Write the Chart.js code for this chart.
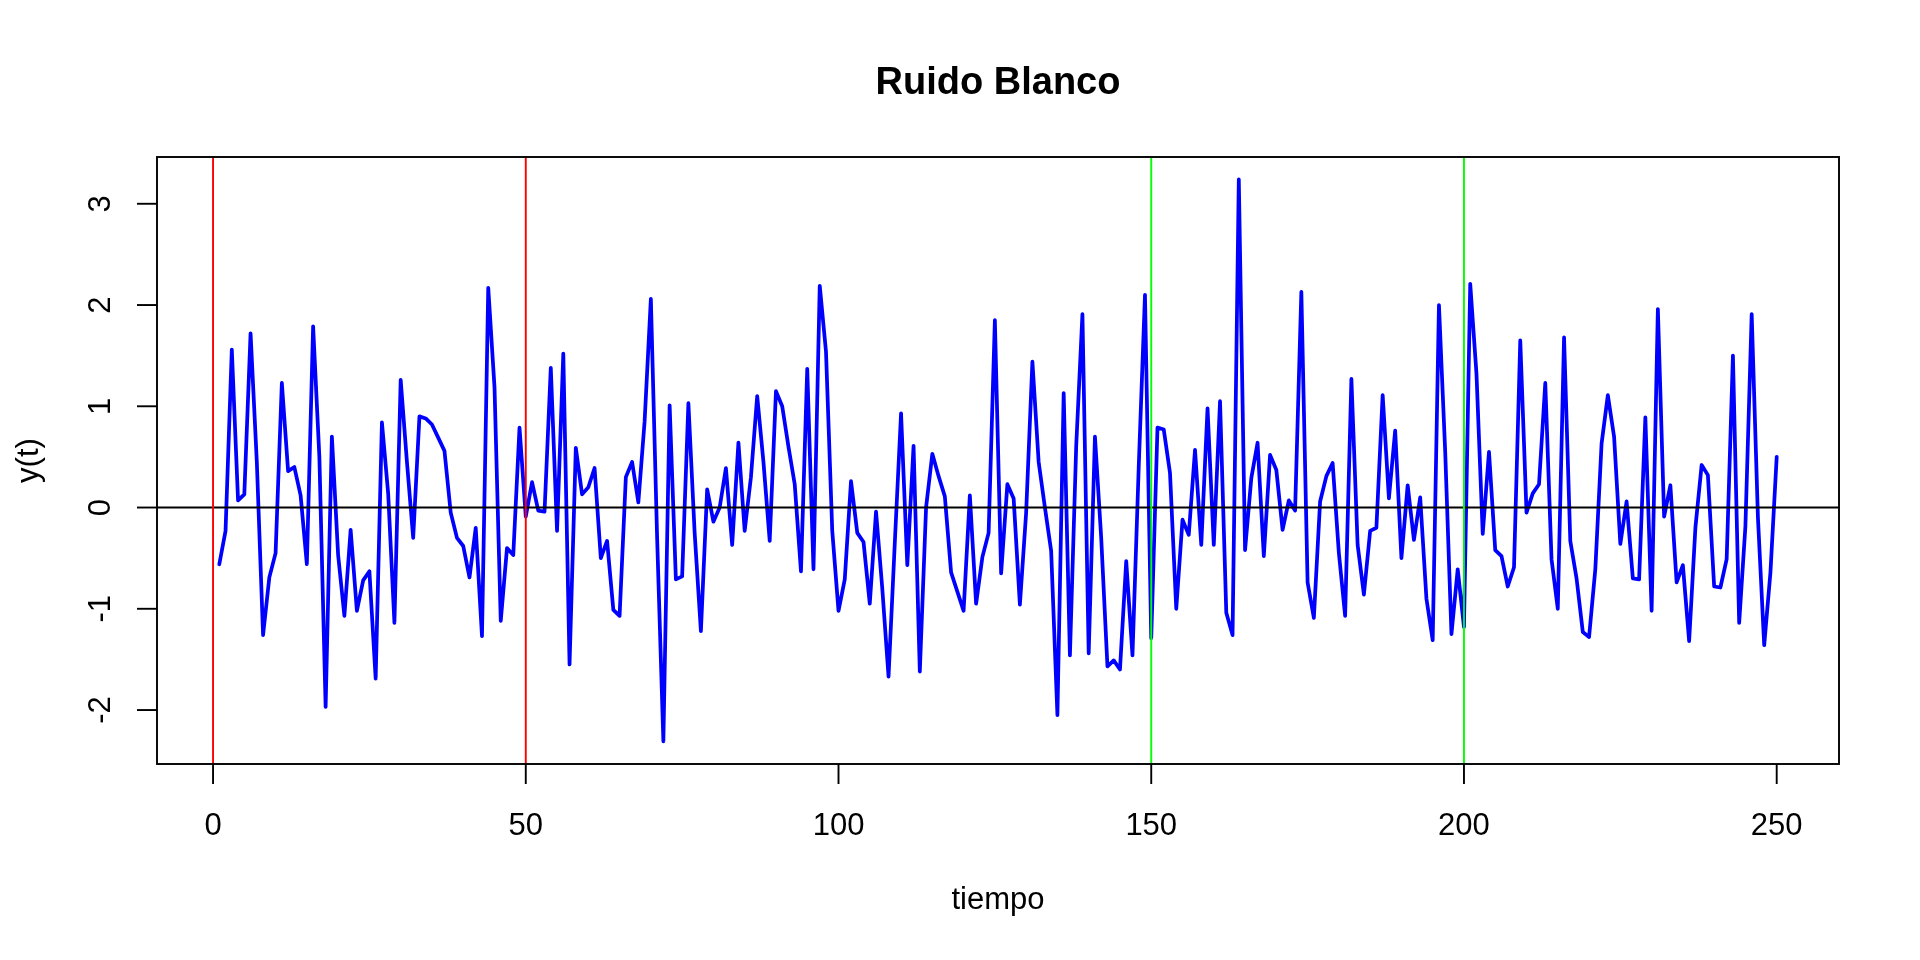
<!DOCTYPE html>
<html><head><meta charset="utf-8">
<script src="https://cdn.jsdelivr.net/npm/chart.js@4.4.1/dist/chart.umd.min.js"></script>
<style>html,body{margin:0;padding:0;background:#fff;overflow:hidden}#wrap{width:1920px;height:960px}</style>
</head><body><div id="wrap"><canvas id="c" width="1920" height="960"></canvas></div>
<script>
const yValues = [
 -0.56,-0.23,1.56,0.07,0.13,1.72,0.45,-1.26,-0.69,-0.45,
 1.23,0.36,0.40,0.12,-0.56,1.79,0.50,-1.97,0.70,-0.47,
 -1.07,-0.22,-1.02,-0.72,-0.63,-1.69,0.84,0.14,-1.14,1.26,
 0.45,-0.30,0.90,0.88,0.82,0.69,0.56,-0.05,-0.30,-0.38,
 -0.69,-0.20,-1.27,2.17,1.19,-1.12,-0.40,-0.47,0.79,-0.09,
 0.25,-0.03,-0.04,1.38,-0.23,1.52,-1.55,0.59,0.13,0.20,
 0.39,-0.50,-0.33,-1.01,-1.07,0.30,0.45,0.05,0.85,2.06,
 -0.30,-2.31,1.01,-0.71,-0.68,1.03,-0.25,-1.22,0.18,-0.14,
 0.00,0.39,-0.37,0.64,-0.23,0.30,1.10,0.45,-0.33,1.15,
 1.00,0.60,0.23,-0.63,1.37,-0.61,2.19,1.54,-0.23,-1.02,
 -0.71,0.26,-0.25,-0.34,-0.95,-0.04,-0.80,-1.67,-0.35,0.93,
 -0.57,0.61,-1.62,0.00,0.53,0.31,0.11,-0.64,-0.83,-1.02,
 0.12,-0.95,-0.49,-0.25,1.85,-0.65,0.23,0.09,-0.96,-0.05,
 1.44,0.45,0.00,-0.43,-2.05,1.13,-1.46,0.60,1.91,-1.44,
 0.70,-0.30,-1.57,-1.51,-1.60,-0.53,-1.46,0.40,2.10,-1.29,
 0.79,0.77,0.34,-1.00,-0.12,-0.27,0.57,-0.37,0.98,-0.37,
 1.05,-1.04,-1.26,3.24,-0.42,0.29,0.64,-0.48,0.52,0.37,
 -0.22,0.07,-0.03,2.13,-0.74,-1.09,0.06,0.31,0.44,-0.45,
 -1.07,1.27,-0.37,-0.86,-0.23,-0.20,1.11,0.09,0.76,-0.50,
 0.22,-0.32,0.10,-0.90,-1.31,2.00,0.55,-1.25,-0.61,-1.18,
 2.21,1.32,-0.26,0.55,-0.42,-0.48,-0.78,-0.59,1.65,-0.05,
 0.14,0.23,1.23,-0.51,-1.00,1.68,-0.33,-0.70,-1.23,-1.28,
 -0.61,0.63,1.11,0.70,-0.36,0.06,-0.70,-0.71,0.89,-1.02,
 1.96,-0.09,0.22,-0.74,-0.57,-1.32,-0.20,0.42,0.32,-0.78,
 -0.79,-0.51,1.50,-1.14,-0.18,1.91,-0.10,-1.36,-0.64,0.50
];
const tiempo = yValues.map((v, i) => i + 1);
const xTicks = [0, 50, 100, 150, 200, 250];
const yTicks = [-2, -1, 0, 1, 2, 3];
const hLines = [0];
const redLines = [0, 50];
const greenLines = [150, 200];
const titleText = 'Ruido Blanco';
const xLabel = 'tiempo';
const yLabel = 'y(t)';

const FONT = '"Liberation Sans", Arial, Helvetica, sans-serif';

const rAxes = {
  id: 'rAxes',
  afterDatasetsDraw(chart) {
    const ctx = chart.ctx, a = chart.chartArea;
    const xs = chart.scales.x, ys = chart.scales.y;
    ctx.save();
    ctx.beginPath(); ctx.rect(a.left, a.top, a.right - a.left, a.bottom - a.top); ctx.clip();
    ctx.lineWidth = 1.9; ctx.lineCap = 'butt';
    ctx.strokeStyle = '#000000';
    hLines.forEach(v => { const p = ys.getPixelForValue(v); ctx.beginPath(); ctx.moveTo(a.left, p); ctx.lineTo(a.right, p); ctx.stroke(); });
    ctx.strokeStyle = '#FF0000';
    redLines.forEach(v => { const p = xs.getPixelForValue(v); ctx.beginPath(); ctx.moveTo(p, a.top); ctx.lineTo(p, a.bottom); ctx.stroke(); });
    ctx.strokeStyle = '#00FF00';
    greenLines.forEach(v => { const p = xs.getPixelForValue(v); ctx.beginPath(); ctx.moveTo(p, a.top); ctx.lineTo(p, a.bottom); ctx.stroke(); });
    ctx.restore();

    ctx.save();
    ctx.strokeStyle = '#000000'; ctx.fillStyle = '#000000'; ctx.lineWidth = 1.9;
    ctx.strokeRect(a.left, a.top, a.right - a.left, a.bottom - a.top);
    ctx.font = '31px ' + FONT; ctx.textAlign = 'center'; ctx.textBaseline = 'alphabetic';
    xTicks.forEach(v => {
      const p = xs.getPixelForValue(v);
      ctx.beginPath(); ctx.moveTo(p, a.bottom); ctx.lineTo(p, a.bottom + 20); ctx.stroke();
      ctx.fillText(String(v), p, 835);
    });
    yTicks.forEach(v => {
      const p = ys.getPixelForValue(v);
      ctx.beginPath(); ctx.moveTo(a.left - 20, p); ctx.lineTo(a.left, p); ctx.stroke();
      ctx.save(); ctx.translate(110, p); ctx.rotate(-Math.PI / 2);
      ctx.fillText(String(v), 0, 0); ctx.restore();
    });
    const cx = (a.left + a.right) / 2, cy = (a.top + a.bottom) / 2;
    ctx.fillText(xLabel, cx, 909);
    ctx.save(); ctx.translate(38, cy); ctx.rotate(-Math.PI / 2); ctx.fillText(yLabel, 0, 0); ctx.restore();
    ctx.font = 'bold 38px ' + FONT;
    ctx.fillText(titleText, cx, 94);
    ctx.restore();
  }
};

new Chart(document.getElementById('c'), {
  type: 'line',
  data: {
    datasets: [{
      data: tiempo.map((t, i) => ({ x: t, y: yValues[i] })),
      borderColor: '#0000FF',
      borderWidth: 3.75,
      pointRadius: 0,
      tension: 0,
      fill: false,
      borderJoinStyle: 'round',
      borderCapStyle: 'round'
    }]
  },
  options: {
    responsive: false,
    animation: false,
    devicePixelRatio: 1,
    layout: { padding: { left: 157, top: 157, right: 81, bottom: 196 } },
    plugins: { legend: { display: false }, tooltip: { enabled: false }, title: { display: false } },
    scales: {
      x: { type: 'linear', min: -8.96, max: 259.96, display: false },
      y: { type: 'linear', min: -2.533, max: 3.462, display: false }
    }
  },
  plugins: [rAxes]
});
</script>
</body></html>
